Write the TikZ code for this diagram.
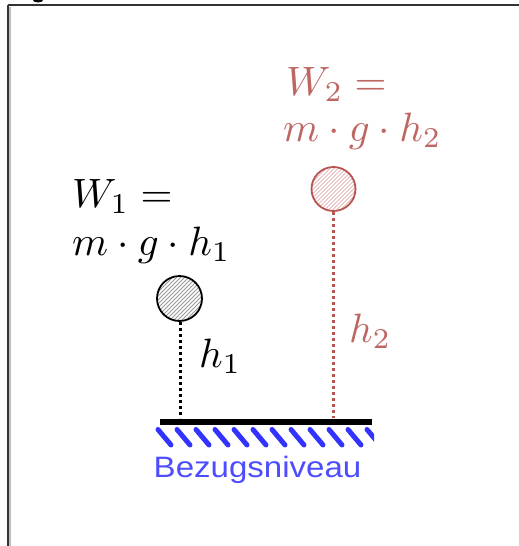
\documentclass[tikz,border=0pt]{standalone}
\usepackage{fontspec}
\usetikzlibrary{calc}
\newfontfamily\labelsans{Liberation Sans}
\definecolor{redstroke}{HTML}{B85450}
\definecolor{redtext}{HTML}{BE6662}
\definecolor{bluehatch}{HTML}{3333FF}
\definecolor{bluetext}{HTML}{4D4DFF}
\newcommand{\bigmath}[1]{\scalebox{4.1}{$#1$}}
\tikzset{
  mathlabel/.style={anchor=base west, inner sep=0pt},
  ballstroke/.style={line width=1.8pt},
  heightline/.style={line width=3pt, dash pattern=on 3pt off 3pt},
  hatchstroke/.style={bluehatch, line width=5pt, line cap=round},
}
\begin{document}
\begin{tikzpicture}[x=1pt,y=-1pt]
\useasboundingbox (0,0) rectangle (519,546);
\begin{scope}
\clip (0,0) rectangle (519,546);
% frame
\fill[black] (38,0) ellipse [x radius=5, y radius=2.5];
\draw[black!80, line width=1.5pt] (7.8,5.2) -- (519,5.2);
\draw[black!80, line width=1.5pt] (7.8,5.2) -- (7.8,546);
\draw[black!25, line width=1.5pt] (9.8,6.5) -- (9.8,546);
\end{scope}

% coordinates
\coordinate (ballA) at (179.5,298.5);
\coordinate (ballB) at (333.5,189);
\coordinate (groundL) at (160,421.5);
\coordinate (groundR) at (372,421.5);
\coordinate (footA) at (180,418);
\coordinate (footB) at (333.5,418);

% height lines
\draw[heightline, black] (180,322) -- (footA);
\draw[heightline, redstroke, line width=2.6pt] (333.5,212) -- (footB);

% ground
\draw[line width=6pt] (groundL) -- (groundR);
\begin{scope}
\clip (154,424) rectangle (374,452);
\foreach \i in {0,...,11} {
  \draw[hatchstroke] ({158+19*\i},429.5) -- ({171+19*\i},445);
}
\end{scope}
\node[anchor=base, inner sep=0pt, text=bluetext, font=\labelsans\fontsize{29.5}{34}\selectfont] (bezug) at (257.5,477.5) {\scalebox{1.12}[1]{Bezugsniveau}};

% ball A
\begin{scope}
\clip (ballA) circle (22);
\foreach \k in {-12,...,12} {
  \draw[black!40, line width=0.8pt] ($(ballA)+(\k*4-30,30)$) -- ++(60,-60);
}
\end{scope}
\draw[ballstroke, black] (ballA) circle (22.5);
\node[inner sep=0pt, minimum size=45pt] (ballAnode) at (ballA) {};

% ball B
\begin{scope}
\clip (ballB) circle (21.5);
\foreach \k in {-12,...,12} {
  \draw[redstroke!40, line width=0.8pt] ($(ballB)+(\k*4-30,30)$) -- ++(60,-60);
}
\end{scope}
\draw[ballstroke, redstroke] (ballB) circle (22);
\node[inner sep=0pt, minimum size=44pt] (ballBnode) at (ballB) {};

% labels
\node[mathlabel] (wA) at (72,207) {\bigmath{W_1 =}};
\node[mathlabel] (eqA) at (72,255) {\bigmath{m\cdot g\cdot h_1}};
\node[mathlabel, text=redtext] (wB) at (286,95) {\bigmath{W_2 =}};
\node[mathlabel, text=redtext] (eqB) at (283,141) {\bigmath{m\cdot g\cdot h_2}};
\node[mathlabel] (hA) at (199,367) {\bigmath{h_1}};
\node[mathlabel, text=redtext] (hB) at (349,342) {\bigmath{h_2}};
\end{tikzpicture}
\end{document}
